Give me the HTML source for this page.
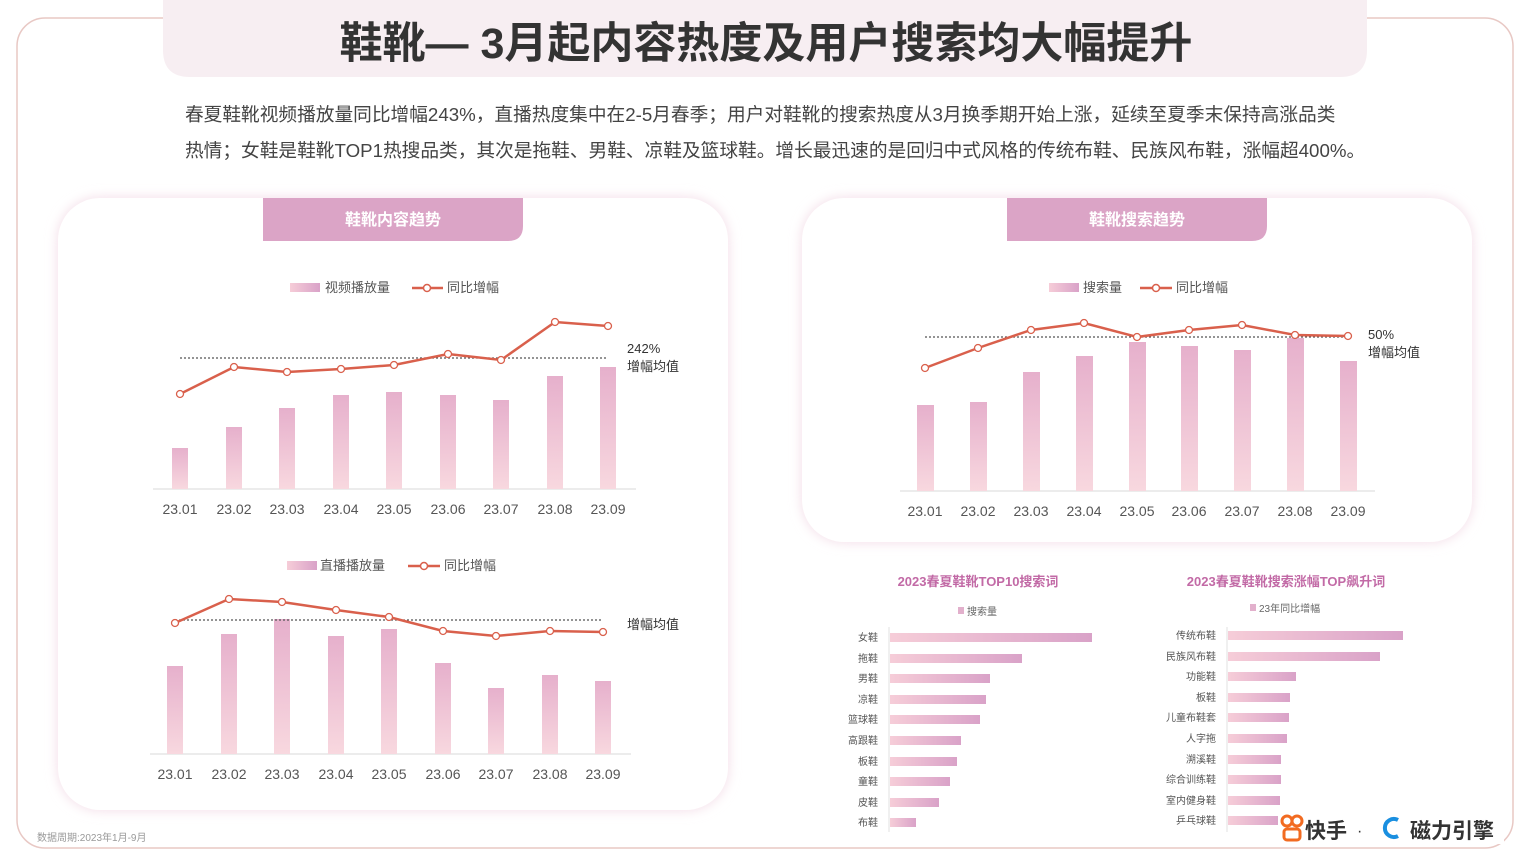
<!DOCTYPE html>
<html><head><meta charset="utf-8"><style>
body{margin:0;background:#fff;width:1528px;height:860px;overflow:hidden;}
svg{display:block;font-family:"Liberation Sans","Noto Sans CJK SC",sans-serif;}
</style></head><body>
<svg width="1528" height="860" viewBox="0 0 1528 860">
<defs>
<linearGradient id="vb" x1="0" y1="0" x2="0" y2="1"><stop offset="0" stop-color="#e6b0cc"/><stop offset="1" stop-color="#f8d8df"/></linearGradient>
<linearGradient id="hb" x1="0" y1="0" x2="1" y2="0"><stop offset="0" stop-color="#f6cdd8"/><stop offset="1" stop-color="#d9a2c8"/></linearGradient>
<filter id="sh" x="-10%" y="-10%" width="120%" height="120%"><feGaussianBlur stdDeviation="6"/></filter>
</defs>
<rect x="17" y="18" width="1496" height="830" rx="28" fill="#fff" stroke="#e8c8c4" stroke-width="1.5"/>
<path d="M163 0 H1367 V50 Q1367 77 1340 77 H190 Q163 77 163 50 Z" fill="#f7eef2"/>
<text x="766" y="58" text-anchor="middle" font-size="43" font-weight="bold" fill="#333">鞋靴— 3月起内容热度及用户搜索均大幅提升</text>
<text x="185" y="121" font-size="18.7" fill="#444">春夏鞋靴视频播放量同比增幅243%，直播热度集中在2-5月春季；用户对鞋靴的搜索热度从3月换季期开始上涨，延续至夏季末保持高涨品类</text>
<text x="185" y="157" font-size="18.7" fill="#444">热情；女鞋是鞋靴TOP1热搜品类，其次是拖鞋、男鞋、凉鞋及篮球鞋。增长最迅速的是回归中式风格的传统布鞋、民族风布鞋，涨幅超400%。</text>

<!-- panels -->
<rect x="58" y="198" width="670" height="612" rx="42" fill="#f3dbe6" filter="url(#sh)"/>
<rect x="58" y="198" width="670" height="612" rx="42" fill="#fff"/>
<rect x="802" y="198" width="670" height="344" rx="42" fill="#f3dbe6" filter="url(#sh)"/>
<rect x="802" y="198" width="670" height="344" rx="42" fill="#fff"/>
<path d="M263 198 H523 V226 Q523 241 508 241 H263 Z" fill="#dba4c6"/>
<text x="393" y="225" text-anchor="middle" font-size="16" font-weight="bold" fill="#fff">鞋靴内容趋势</text>
<path d="M1007 198 H1267 V226 Q1267 241 1252 241 H1007 Z" fill="#dba4c6"/>
<text x="1137" y="225" text-anchor="middle" font-size="16" font-weight="bold" fill="#fff">鞋靴搜索趋势</text>

<g font-size="13" fill="#555">
<!-- chart1 -->
<rect x="290" y="283" width="30" height="9" fill="url(#hb)"/><text x="325" y="292">视频播放量</text>
<line x1="412" y1="288" x2="443" y2="288" stroke="#d9604c" stroke-width="2.5"/><circle cx="427" cy="288" r="3.5" fill="#fff" stroke="#d9604c" stroke-width="1.5"/><text x="447" y="292">同比增幅</text>
<line x1="153" y1="489" x2="636" y2="489" stroke="#e6e6e6" stroke-width="1.5"/>
<rect x="172" y="448" width="16" height="41" fill="url(#vb)"/>
<rect x="226" y="427" width="16" height="62" fill="url(#vb)"/>
<rect x="279" y="408" width="16" height="81" fill="url(#vb)"/>
<rect x="333" y="395" width="16" height="94" fill="url(#vb)"/>
<rect x="386" y="392" width="16" height="97" fill="url(#vb)"/>
<rect x="440" y="395" width="16" height="94" fill="url(#vb)"/>
<rect x="493" y="400" width="16" height="89" fill="url(#vb)"/>
<rect x="547" y="376" width="16" height="113" fill="url(#vb)"/>
<rect x="600" y="367" width="16" height="122" fill="url(#vb)"/>
<line x1="180" y1="358" x2="608" y2="358" stroke="#555" stroke-width="1.2" stroke-dasharray="2,2"/>
<polyline points="180,394 234,367 287,372 341,369 394,365 448,354 501,360 555,322 608,326" fill="none" stroke="#d9604c" stroke-width="2.5"/>
<g fill="#fff" stroke="#d9604c" stroke-width="1.3"><circle cx="180" cy="394" r="3.5"/><circle cx="234" cy="367" r="3.5"/><circle cx="287" cy="372" r="3.5"/><circle cx="341" cy="369" r="3.5"/><circle cx="394" cy="365" r="3.5"/><circle cx="448" cy="354" r="3.5"/><circle cx="501" cy="360" r="3.5"/><circle cx="555" cy="322" r="3.5"/><circle cx="608" cy="326" r="3.5"/></g>
<text x="627" y="353" fill="#333">242%</text><text x="627" y="371" fill="#333">增幅均值</text>
<g text-anchor="middle" font-size="14"><text x="180" y="514">23.01</text><text x="234" y="514">23.02</text><text x="287" y="514">23.03</text><text x="341" y="514">23.04</text><text x="394" y="514">23.05</text><text x="448" y="514">23.06</text><text x="501" y="514">23.07</text><text x="555" y="514">23.08</text><text x="608" y="514">23.09</text></g>

<!-- chart2 -->
<rect x="287" y="561" width="30" height="9" fill="url(#hb)"/><text x="320" y="570">直播播放量</text>
<line x1="408" y1="566" x2="440" y2="566" stroke="#d9604c" stroke-width="2.5"/><circle cx="424" cy="566" r="3.5" fill="#fff" stroke="#d9604c" stroke-width="1.5"/><text x="444" y="570">同比增幅</text>
<line x1="150" y1="754" x2="631" y2="754" stroke="#e6e6e6" stroke-width="1.5"/>
<rect x="167" y="666" width="16" height="88" fill="url(#vb)"/>
<rect x="221" y="634" width="16" height="120" fill="url(#vb)"/>
<rect x="274" y="619" width="16" height="135" fill="url(#vb)"/>
<rect x="328" y="636" width="16" height="118" fill="url(#vb)"/>
<rect x="381" y="629" width="16" height="125" fill="url(#vb)"/>
<rect x="435" y="663" width="16" height="91" fill="url(#vb)"/>
<rect x="488" y="688" width="16" height="66" fill="url(#vb)"/>
<rect x="542" y="675" width="16" height="79" fill="url(#vb)"/>
<rect x="595" y="681" width="16" height="73" fill="url(#vb)"/>
<line x1="175" y1="620" x2="603" y2="620" stroke="#555" stroke-width="1.2" stroke-dasharray="2,2"/>
<polyline points="175,623 229,599 282,602 336,610 389,617 443,631 496,636 550,631 603,632" fill="none" stroke="#d9604c" stroke-width="2.5"/>
<g fill="#fff" stroke="#d9604c" stroke-width="1.3"><circle cx="175" cy="623" r="3.5"/><circle cx="229" cy="599" r="3.5"/><circle cx="282" cy="602" r="3.5"/><circle cx="336" cy="610" r="3.5"/><circle cx="389" cy="617" r="3.5"/><circle cx="443" cy="631" r="3.5"/><circle cx="496" cy="636" r="3.5"/><circle cx="550" cy="631" r="3.5"/><circle cx="603" cy="632" r="3.5"/></g>
<text x="627" y="629" fill="#333">增幅均值</text>
<g text-anchor="middle" font-size="14"><text x="175" y="779">23.01</text><text x="229" y="779">23.02</text><text x="282" y="779">23.03</text><text x="336" y="779">23.04</text><text x="389" y="779">23.05</text><text x="443" y="779">23.06</text><text x="496" y="779">23.07</text><text x="550" y="779">23.08</text><text x="603" y="779">23.09</text></g>

<!-- chart3 -->
<rect x="1049" y="283" width="30" height="9" fill="url(#hb)"/><text x="1083" y="292">搜索量</text>
<line x1="1140" y1="288" x2="1172" y2="288" stroke="#d9604c" stroke-width="2.5"/><circle cx="1156" cy="288" r="3.5" fill="#fff" stroke="#d9604c" stroke-width="1.5"/><text x="1176" y="292">同比增幅</text>
<line x1="900" y1="491" x2="1375" y2="491" stroke="#e6e6e6" stroke-width="1.5"/>
<rect x="917" y="405" width="17" height="86" fill="url(#vb)"/>
<rect x="970" y="402" width="17" height="89" fill="url(#vb)"/>
<rect x="1023" y="372" width="17" height="119" fill="url(#vb)"/>
<rect x="1076" y="356" width="17" height="135" fill="url(#vb)"/>
<rect x="1129" y="342" width="17" height="149" fill="url(#vb)"/>
<rect x="1181" y="346" width="17" height="145" fill="url(#vb)"/>
<rect x="1234" y="350" width="17" height="141" fill="url(#vb)"/>
<rect x="1287" y="338" width="17" height="153" fill="url(#vb)"/>
<rect x="1340" y="361" width="17" height="130" fill="url(#vb)"/>
<line x1="925" y1="337" x2="1348" y2="337" stroke="#555" stroke-width="1.2" stroke-dasharray="2,2"/>
<polyline points="925,368 978,348 1031,330 1084,323 1137,337 1189,330 1242,325 1295,335 1348,336" fill="none" stroke="#d9604c" stroke-width="2.5"/>
<g fill="#fff" stroke="#d9604c" stroke-width="1.3"><circle cx="925" cy="368" r="3.5"/><circle cx="978" cy="348" r="3.5"/><circle cx="1031" cy="330" r="3.5"/><circle cx="1084" cy="323" r="3.5"/><circle cx="1137" cy="337" r="3.5"/><circle cx="1189" cy="330" r="3.5"/><circle cx="1242" cy="325" r="3.5"/><circle cx="1295" cy="335" r="3.5"/><circle cx="1348" cy="336" r="3.5"/></g>
<text x="1368" y="339" fill="#333">50%</text><text x="1368" y="357" fill="#333">增幅均值</text>
<g text-anchor="middle" font-size="14"><text x="925" y="516">23.01</text><text x="978" y="516">23.02</text><text x="1031" y="516">23.03</text><text x="1084" y="516">23.04</text><text x="1137" y="516">23.05</text><text x="1189" y="516">23.06</text><text x="1242" y="516">23.07</text><text x="1295" y="516">23.08</text><text x="1348" y="516">23.09</text></g>
</g>

<!-- bar charts -->
<g font-size="13" font-weight="bold" fill="#c26aa6" text-anchor="middle">
<text x="978" y="586">2023春夏鞋靴TOP10搜索词</text>
<text x="1286" y="586">2023春夏鞋靴搜索涨幅TOP飙升词</text>
</g>
<g font-size="10" fill="#666">
<rect x="958" y="607" width="6" height="7" fill="#e2b0cc"/><text x="967" y="615">搜索量</text>
<rect x="1250" y="604" width="6" height="7" fill="#e2b0cc"/><text x="1259" y="612">23年同比增幅</text>
</g>
<line x1="889" y1="627" x2="889" y2="832" stroke="#e0e0e0"/>
<line x1="1227" y1="627" x2="1227" y2="832" stroke="#e0e0e0"/>
<g fill="url(#hb)">
<rect x="890" y="633" width="202" height="9"/><rect x="890" y="654" width="132" height="9"/><rect x="890" y="674" width="100" height="9"/><rect x="890" y="695" width="96" height="9"/><rect x="890" y="715" width="90" height="9"/><rect x="890" y="736" width="71" height="9"/><rect x="890" y="757" width="67" height="9"/><rect x="890" y="777" width="60" height="9"/><rect x="890" y="798" width="49" height="9"/><rect x="890" y="818" width="26" height="9"/>
<rect x="1228" y="631" width="175" height="9"/><rect x="1228" y="652" width="152" height="9"/><rect x="1228" y="672" width="68" height="9"/><rect x="1228" y="693" width="62" height="9"/><rect x="1228" y="713" width="61" height="9"/><rect x="1228" y="734" width="59" height="9"/><rect x="1228" y="755" width="53" height="9"/><rect x="1228" y="775" width="53" height="9"/><rect x="1228" y="796" width="52" height="9"/><rect x="1228" y="816" width="52" height="9"/>
</g>
<g font-size="10" fill="#555" text-anchor="end">
<text x="878" y="641">女鞋</text><text x="878" y="662">拖鞋</text><text x="878" y="682">男鞋</text><text x="878" y="703">凉鞋</text><text x="878" y="723">篮球鞋</text><text x="878" y="744">高跟鞋</text><text x="878" y="765">板鞋</text><text x="878" y="785">童鞋</text><text x="878" y="806">皮鞋</text><text x="878" y="826">布鞋</text>
<text x="1216" y="639">传统布鞋</text><text x="1216" y="660">民族风布鞋</text><text x="1216" y="680">功能鞋</text><text x="1216" y="701">板鞋</text><text x="1216" y="721">儿童布鞋套</text><text x="1216" y="742">人字拖</text><text x="1216" y="763">溯溪鞋</text><text x="1216" y="783">综合训练鞋</text><text x="1216" y="804">室内健身鞋</text><text x="1216" y="824">乒乓球鞋</text>
</g>
<!-- logo -->
<rect x="1278" y="812" width="226" height="32" fill="#fff"/>
<g fill="none" stroke="#f26b21" stroke-width="3"><circle cx="1287" cy="821" r="5"/><circle cx="1297" cy="821" r="5"/><rect x="1284" y="829" width="16" height="11" rx="3"/></g>
<text x="1305" y="838" font-size="21" font-weight="bold" fill="#333">快手</text>
<text x="1357" y="836" font-size="16" fill="#333">·</text>
<path d="M1398 820 A9 9 0 1 0 1398 836" fill="none" stroke="#1a8fe0" stroke-width="4"/>
<text x="1410" y="838" font-size="21" font-weight="bold" fill="#333">磁力引擎</text>
<text x="37" y="841" font-size="10" fill="#999">数据周期:2023年1月-9月</text>
</svg>
</body></html>
